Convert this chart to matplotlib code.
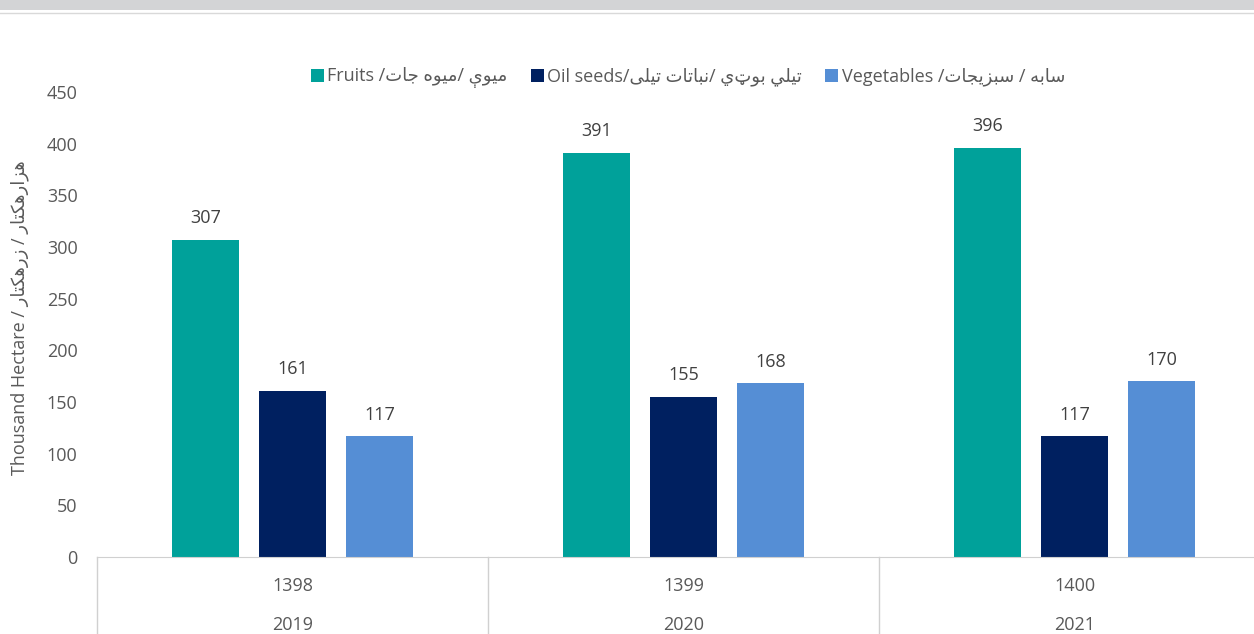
import matplotlib
matplotlib.use('Agg')
import matplotlib.pyplot as plt
from matplotlib import font_manager, ft2font
from matplotlib.patches import Rectangle
import numpy as np

# data
persian_years = ['1398', '1399', '1400']
years = ['2019', '2020', '2021']
fruits = [307, 391, 396]
oil_seeds = [161, 155, 117]
vegetables = [117, 168, 170]

colors = ['#00A19A', '#002060', '#558ED5']
txt_col = '#595959'

# --- tiny arabic shaper (matplotlib does no shaping) ---
# char: (isol, fina, init, medi) ; right-joining letters only have two forms
FORMS = {
    'ا': (0xFE8D, 0xFE8E), 'ب': (0xFE8F, 0xFE90, 0xFE91, 0xFE92),
    'ت': (0xFE95, 0xFE96, 0xFE97, 0xFE98), 'ج': (0xFE9D, 0xFE9E, 0xFE9F, 0xFEA0),
    'ر': (0xFEAD, 0xFEAE), 'ز': (0xFEAF, 0xFEB0),
    'س': (0xFEB1, 0xFEB2, 0xFEB3, 0xFEB4), 'ل': (0xFEDD, 0xFEDE, 0xFEDF, 0xFEE0),
    'م': (0xFEE1, 0xFEE2, 0xFEE3, 0xFEE4), 'ن': (0xFEE5, 0xFEE6, 0xFEE7, 0xFEE8),
    'ه': (0xFEE9, 0xFEEA, 0xFEEB, 0xFEEC), 'و': (0xFEED, 0xFEEE),
    'ى': (0xFEEF, 0xFEF0), 'ي': (0xFEF1, 0xFEF2, 0xFEF3, 0xFEF4),
    'ک': (0xFB8E, 0xFB8F, 0xFB90, 0xFB91), 'ې': (0xFBE4, 0xFBE5, 0xFBE6, 0xFBE7),
}
_font = ft2font.FT2Font(font_manager.findfont('DejaVu Sans'))


def _has(cp):
    return _font.get_char_index(cp) != 0


def ar(s):
    out = []
    for i, c in enumerate(s):
        f = FORMS.get(c)
        if f is None:
            out.append(c)
            continue
        prev = s[i - 1] if i > 0 else ''
        nxt = s[i + 1] if i + 1 < len(s) else ''
        jp = prev in FORMS and len(FORMS[prev]) == 4
        jn = len(f) == 4 and nxt in FORMS
        if jp and jn:
            cp = f[3]
        elif jn:
            cp = f[2]
        elif jp:
            cp = f[1]
        else:
            cp = f[0]
        out.append(chr(cp) if _has(cp) else c)
    return ''.join(out)[::-1]


labels = [
    'Fruits /' + ar('ميوه جات') + '/ ' + ar('ميوې'),
    'Oil seeds/' + ar('نباتات تيلى') + '/ ' + ar('تيلي بوټي'),
    'Vegetables /' + ar('سبزيجات') + ' / ' + ar('سابه'),
]
ylabel = 'Thousand Hectare / ' + ar('زرهکتار') + ' / ' + ar('هزارهکتار')

plt.rcParams['font.family'] = ['Open Sans', 'DejaVu Sans']

W, H = 1254, 634
fig = plt.figure(figsize=(W / 100, H / 100), dpi=100)
fig.patch.set_facecolor('white')

# grey band at the top
fig.add_artist(Rectangle((0, 1 - 10 / H), 1, 10 / H, transform=fig.transFigure,
                         facecolor='#d3d4d6', edgecolor='none'))
fig.add_artist(plt.Line2D([0, 1], [1 - 12.5 / H, 1 - 12.5 / H], transform=fig.transFigure,
                          color='#d9d9d9', lw=1))

ax = fig.add_axes([97 / W, 77 / H, 1173 / W, 465 / H])
x = np.arange(len(years))
bw = 0.171
step = 0.2225
series = [fruits, oil_seeds, vegetables]
for i, (vals, col, lab) in enumerate(zip(series, colors, labels)):
    bars = ax.bar(x + (i - 1) * step, vals, width=bw, color=col, label=lab)
    for b, v in zip(bars, vals):
        ax.annotate(str(v), (b.get_x() + b.get_width() / 2, v), xytext=(0, 9),
                    textcoords='offset points', ha='center', va='bottom',
                    fontsize=13, color='#404040')

ax.set_xlim(-0.5, 2.5)
ax.set_ylim(0, 450)
ax.set_yticks(np.arange(0, 451, 50))
ax.tick_params(axis='y', length=0, pad=14, labelsize=13, labelcolor=txt_col)
ax.set_xticks([])
for s in ['top', 'right', 'left']:
    ax.spines[s].set_visible(False)
ax.spines['bottom'].set_color('#d0d0d0')

# category table under the axis
tr = ax.get_xaxis_transform()
for b in np.arange(-0.5, 3.0, 1.0):
    ax.plot([b, b], [0, -0.3], transform=tr, color='#d0d0d0', lw=1, clip_on=False)
for xi, p, y in zip(x, persian_years, years):
    ax.annotate(p, (xi, 0), xycoords=tr, xytext=(0, -21), textcoords='offset points',
                ha='center', va='center', fontsize=13, color=txt_col)
    ax.annotate(y, (xi, 0), xycoords=tr, xytext=(0, -49), textcoords='offset points',
                ha='center', va='center', fontsize=13, color=txt_col)

fig.text(20 / W, 1 - 318 / H, ylabel, rotation=90, ha='center', va='center',
         fontsize=13, color=txt_col)

fig.legend(loc='center', bbox_to_anchor=(688 / W, 1 - 78 / H), ncol=3, frameon=False,
           fontsize=13, handlelength=0.7, handleheight=0.7, handletextpad=0.2,
           columnspacing=1.3, labelcolor=txt_col)

fig.savefig('out.png', dpi=100)
